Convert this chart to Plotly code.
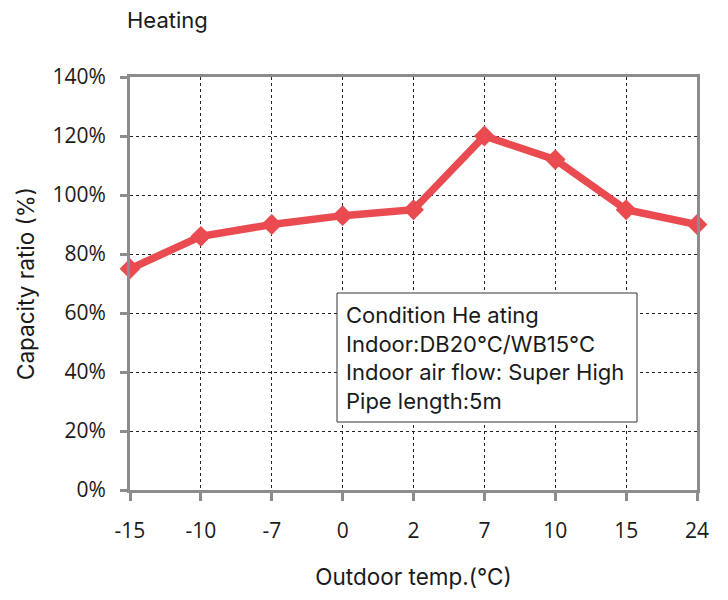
import plotly.graph_objects as go

categories = ["-15", "-10", "-7", "0", "2", "7", "10", "15", "24"]
capacity = [75, 86, 90, 93, 95, 120, 112, 95, 90]
y_ticks = [0, 20, 40, 60, 80, 100, 120, 140]
y_tick_labels = [f"{v}%" for v in y_ticks]
note_lines = ["Condition He ating", "Indoor:DB20°C/WB15°C",
              "Indoor air flow: Super High", "Pipe length:5m"]

FONT = "Inter, Liberation Sans, Arial, sans-serif"
TICK_FONT = "Open Sans, sans-serif"
AXIS_GRAY = "#8c8c8c"
TEXT = "#1a1a1a"

# figure pixel geometry (page body adds an 8px offset)
W, H = 720, 592
L, R, T, B = 122, 31, 69, 110
PW, PH = W - L - R, H - T - B


def px_x(x):
    return (x - 8 - L) / PW


def px_y(y):
    return (H - B - (y - 8)) / PH


fig = go.Figure()
fig.add_trace(go.Scatter(
    x=categories, y=capacity, mode="lines+markers",
    line=dict(color="#E94B50", width=7.5),
    marker=dict(symbol="diamond", size=16, color="#E94B50"),
    showlegend=False, cliponaxis=False,
))

fig.update_layout(
    width=W, height=H,
    margin=dict(l=L, r=R, t=T, b=B),
    paper_bgcolor="white", plot_bgcolor="white",
    font=dict(family=FONT, color=TEXT),
    shapes=[
        dict(type="rect", xref="paper", yref="paper",
             x0=px_x(337), x1=px_x(637), y0=px_y(422), y1=px_y(293),
             line=dict(color="#333333", width=1), fillcolor="white", layer="above"),
    ],
    annotations=[
        dict(text="Heating", x=px_x(125), y=px_y(20), xref="paper", yref="paper",
             xanchor="left", yanchor="middle", showarrow=False,
             font=dict(size=22, family=FONT, color=TEXT)),
        dict(text="<br>".join(note_lines), xref="paper", yref="paper",
             x=px_x(345), y=px_y(358),
             xanchor="left", yanchor="middle", align="left", showarrow=False,
             borderpad=0,
             font=dict(size=22, family=FONT, color=TEXT)),
    ],
)

fig.update_xaxes(
    type="category", range=[0, len(categories) - 1],
    showline=True, linecolor=AXIS_GRAY, linewidth=3, mirror=True,
    showgrid=True, gridcolor="#222222", gridwidth=1, griddash="dot",
    ticks="outside", ticklen=8, tickcolor=AXIS_GRAY, tickwidth=3,
    ticklabelstandoff=12,
    tickfont=dict(size=21, family=TICK_FONT, color=TEXT),
    title=dict(text="Outdoor temp.(°C)", font=dict(size=22.5, family=FONT, color=TEXT),
               standoff=27),
    zeroline=False,
)
fig.update_yaxes(
    range=[0, 140], tickvals=y_ticks, ticktext=y_tick_labels,
    showline=True, linecolor=AXIS_GRAY, linewidth=3, mirror=True,
    showgrid=True, gridcolor="#222222", gridwidth=1, griddash="dot",
    ticks="outside", ticklen=7, tickcolor=AXIS_GRAY, tickwidth=3,
    ticklabelstandoff=10,
    tickfont=dict(size=21, family=TICK_FONT, color=TEXT),
    title=dict(text="Capacity ratio (%)", font=dict(size=22.5, family=FONT, color=TEXT),
               standoff=12),
    zeroline=False,
)

fig.write_html("out.html")
